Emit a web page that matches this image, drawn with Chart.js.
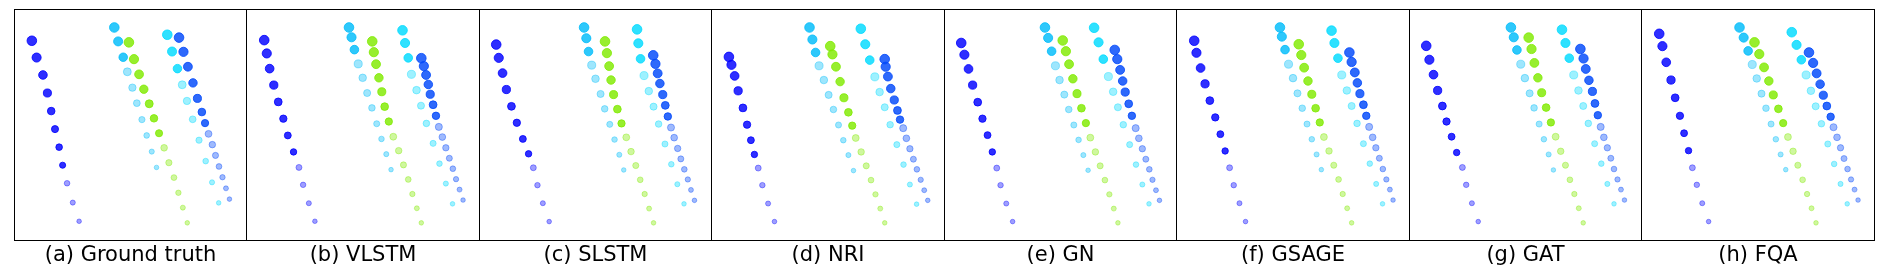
<!DOCTYPE html>
<html lang="en">
<head>
    <meta charset="UTF-8">
    <title>Trajectory predictions</title>
    <script src="https://cdn.jsdelivr.net/npm/chart.js"></script>
    <style>
        body {
            margin: 0;
            background: #ffffff;
            width: 1887px;
            height: 276px;
            overflow: hidden;
            font-family: "DejaVu Sans", sans-serif;
        }
        .panel {
            position: absolute;
            top: 9px;
            height: 232px;
        }
        .frame {
            position: absolute;
            top: 9px;
            height: 232px;
            box-sizing: border-box;
            border: 1px solid #000;
            pointer-events: none;
        }
        .caption {
            position: absolute;
            top: 244px;
            font-size: 21px;
            line-height: 21px;
            color: #000;
            text-align: center;
            white-space: nowrap;
        }
    </style>
</head>
<body>
    <div id="figure"></div>

    <script>
        // Panel captions
        const panelTitles = ['(a) Ground truth', '(b) VLSTM', '(c) SLSTM', '(d) NRI',
                             '(e) GN', '(f) GSAGE', '(g) GAT', '(h) FQA'];

        // Number of observed steps for each of the 5 pedestrians (rest are predicted)
        const observedSteps = [8, 3, 7, 3, 7];

        // Trajectories, [x, y] in panel units (x 0-698, y 0-696 from the top)
        const groundTruth = [
            [[38,82],[53,135],[73,190],[87,247],[99,304],[111,361],[124,418],[135,475],[149,532],[167,593],[187,652]],
            [[298,40],[310,84],[326,134],[339,180],[355,230],[369,279],[385,331],[400,381],[416,432],[431,482]],
            [[344,87],[360,140],[376,188],[391,235],[408,281],[423,327],[439,374],[455,420],[470,467],[486,514],[500,562],[514,609],[528,657]],
            [[465,63],[480,116],[497,170],[512,221],[527,272],[545,330],[565,396],[586,462],[606,529],[627,594]],
            [[502,72],[516,117],[530,164],[546,215],[560,264],[574,307],[584,342],[595,376],[607,410],[617,444],[628,479],[639,513],[650,548],[661,582]]
        ];
        const vlstm = [
            [[39,80],[47,122],[56,170],[69,222],[83,275],[99,328],[113,381],[131,433],[148,482],[161,537],[179,595],[198,652]],
            [[305,40],[313,71],[322,110],[334,155],[348,199],[362,247],[377,294],[392,344],[407,392],[422,440],[437,489]],
            [[378,84],[383,118],[390,156],[399,199],[408,243],[417,290],[430,337],[444,385],[461,429],[476,474],[491,520],[504,566],[518,611],[532,657]],
            [[473,49],[481,89],[491,136],[501,188],[517,238],[531,287],[548,343],[569,406],[589,470],[609,533],[630,597]],
            [[532,137],[540,162],[547,190],[554,220],[560,251],[569,284],[578,319],[587,354],[598,386],[609,420],[620,453],[631,486],[641,519],[652,552],[663,585]]
        ];
        const slstm = [
            [[36,94],[44,136],[56,184],[68,236],[84,289],[101,341],[120,392],[138,439],[153,483],[166,538],[183,595],[203,653]],
            [[313,40],[320,74],[327,116],[337,159],[349,202],[365,250],[378,297],[394,346],[409,394],[424,442],[438,490]],
            [[379,84],[385,121],[392,162],[398,206],[406,252],[418,298],[431,343],[446,387],[461,432],[476,476],[490,521],[504,566],[518,612],[532,657]],
            [[480,46],[484,90],[491,139],[502,192],[517,241],[532,290],[548,345],[568,408],[588,472],[607,535],[628,597]],
            [[531,128],[538,155],[545,185],[552,217],[561,252],[569,286],[577,321],[587,356],[597,388],[608,422],[618,455],[629,488],[640,520],[650,553],[661,586]]
        ];
        const nri = [
            [[38,133],[46,158],[56,193],[67,240],[82,294],[95,347],[107,396],[118,441],[130,484],[143,538],[161,596],[181,653]],
            [[291,40],[300,78],[310,119],[321,161],[336,206],[351,253],[366,299],[382,348],[397,396],[413,443],[429,492]],
            [[356,99],[363,125],[374,164],[387,211],[399,262],[413,308],[425,350],[436,389],[453,433],[469,477],[484,522],[498,567],[513,612],[527,657]],
            [[452,44],[466,93],[480,143],[496,196],[511,244],[527,292],[544,347],[565,410],[586,473],[606,536],[627,598]],
            [[527,140],[530,164],[537,195],[546,233],[557,269],[567,302],[575,331],[585,358],[595,390],[606,423],[617,456],[628,488],[640,521],[651,554],[662,586]]
        ];
        const gn = [
            [[36,89],[46,126],[59,171],[72,222],[88,276],[103,328],[119,380],[134,433],[148,484],[160,538],[178,596],[198,653]],
            [[300,40],[310,73],[321,115],[333,161],[346,206],[361,252],[375,299],[391,348],[406,395],[421,443],[436,491]],
            [[356,81],[366,115],[376,156],[388,202],[401,249],[415,295],[429,342],[443,388],[459,433],[474,477],[489,522],[503,567],[517,612],[530,657]],
            [[455,41],[469,87],[484,140],[500,195],[515,243],[530,292],[547,347],[567,410],[587,473],[607,536],[628,597]],
            [[520,111],[528,140],[537,174],[545,209],[553,244],[564,281],[574,319],[586,358],[596,390],[607,423],[618,456],[629,488],[639,521],[650,554],[661,586]]
        ];
        const gsage = [
            [[39,82],[46,120],[59,168],[73,218],[88,271],[105,324],[121,377],[136,430],[150,483],[163,538],[181,595],[200,653]],
            [[308,40],[314,69],[324,110],[335,156],[349,200],[363,248],[378,295],[393,345],[408,393],[423,441],[438,489]],
            [[367,93],[375,127],[384,167],[396,209],[408,251],[420,295],[433,340],[446,386],[462,430],[477,475],[492,520],[505,566],[519,611],[533,657]],
            [[470,50],[479,89],[490,137],[502,190],[518,239],[533,288],[550,343],[570,407],[590,470],[610,534],[630,597]],
            [[526,119],[533,149],[543,182],[551,215],[559,249],[570,284],[579,319],[588,354],[599,387],[609,420],[620,453],[631,487],[642,520],[653,552],[663,585]]
        ];
        const gat = [
            [[36,98],[46,142],[59,189],[72,239],[87,288],[100,337],[116,385],[132,435],[150,482],[162,537],[180,595],[200,653]],
            [[303,40],[312,71],[322,111],[334,156],[347,200],[362,248],[376,294],[392,345],[407,393],[422,441],[437,490]],
            [[359,72],[368,108],[377,152],[388,199],[400,246],[414,293],[429,340],[444,385],[460,431],[475,475],[489,521],[503,566],[517,611],[531,657]],
            [[464,47],[475,89],[487,137],[501,190],[516,239],[531,288],[547,343],[567,407],[588,470],[607,534],[628,597]],
            [[522,108],[532,138],[539,171],[549,207],[560,242],[568,280],[577,317],[586,354],[596,387],[607,420],[618,453],[628,487],[639,520],[650,552],[661,585]]
        ];
        const fqa = [
            [[39,60],[49,99],[61,150],[76,206],[89,262],[104,319],[117,374],[131,429],[143,483],[157,537],[174,595],[194,653]],
            [[291,40],[304,72],[318,114],[331,157],[345,201],[360,249],[374,295],[390,345],[405,393],[420,441],[436,489]],
            [[338,87],[353,124],[368,166],[383,209],[397,253],[413,297],[428,342],[443,386],[459,431],[474,475],[489,521],[503,566],[517,611],[531,657]],
            [[455,55],[470,95],[485,142],[500,190],[515,240],[530,289],[548,344],[568,408],[588,471],[608,534],[629,597]],
            [[509,119],[522,152],[533,185],[544,219],[554,254],[565,288],[577,322],[586,355],[597,387],[608,420],[619,454],[630,487],[641,520],[652,552],[663,585]]
        ];

        const panels = [groundTruth, vlstm, slstm, nri, gn, gsage, gat, fqa];

        // one colour per pedestrian (r, g, b)
        const agentColors = [
            [0, 0, 255],
            [0, 188, 250],
            [128, 234, 0],
            [0, 218, 255],
            [0, 72, 250]
        ];

        const figLeft = 14;
        const panelStep = 232.5;

        function rgba(c, a) {
            return `rgba(${c[0]}, ${c[1]}, ${c[2]}, ${a})`;
        }

        const figure = document.getElementById('figure');

        panels.forEach((trajectories, p) => {
            const left = Math.floor(figLeft + p * panelStep);
            const right = Math.floor(figLeft + (p + 1) * panelStep);
            const width = right - left + 1;

            const holder = document.createElement('div');
            holder.className = 'panel';
            holder.style.left = left + 'px';
            holder.style.width = width + 'px';
            const canvas = document.createElement('canvas');
            canvas.width = width;
            canvas.height = 232;
            holder.appendChild(canvas);
            figure.appendChild(holder);

            const frame = document.createElement('div');
            frame.className = 'frame';
            frame.style.left = left + 'px';
            frame.style.width = width + 'px';
            figure.appendChild(frame);

            const caption = document.createElement('div');
            caption.className = 'caption';
            caption.textContent = panelTitles[p];
            caption.style.left = left + 'px';
            caption.style.width = width + 'px';
            figure.appendChild(caption);

            const datasets = trajectories.map((pts, a) => {
                const n = pts.length;
                const col = agentColors[a];
                const alphaOf = i => (i < observedSteps[a] ? 0.82 : 0.38);
                return {
                    label: 'agent ' + (a + 1),
                    data: pts.map(pt => ({ x: pt[0], y: pt[1] })),
                    pointRadius: ctx => 4.8 - 2.5 * ctx.dataIndex / (n - 1),
                    backgroundColor: ctx => rgba(col, alphaOf(ctx.dataIndex)),
                    borderColor: ctx => rgba(col, alphaOf(ctx.dataIndex)),
                    borderWidth: 1,
                    showLine: false
                };
            });

            new Chart(canvas.getContext('2d'), {
                type: 'scatter',
                data: { datasets: datasets },
                options: {
                    responsive: false,
                    animation: false,
                    devicePixelRatio: 1,
                    layout: { padding: 0 },
                    plugins: {
                        legend: { display: false },
                        tooltip: { enabled: false }
                    },
                    scales: {
                        x: { type: 'linear', min: 0, max: 698, display: false },
                        y: { type: 'linear', min: 0, max: 696, reverse: true, display: false }
                    }
                }
            });
        });
    </script>
</body>
</html>
